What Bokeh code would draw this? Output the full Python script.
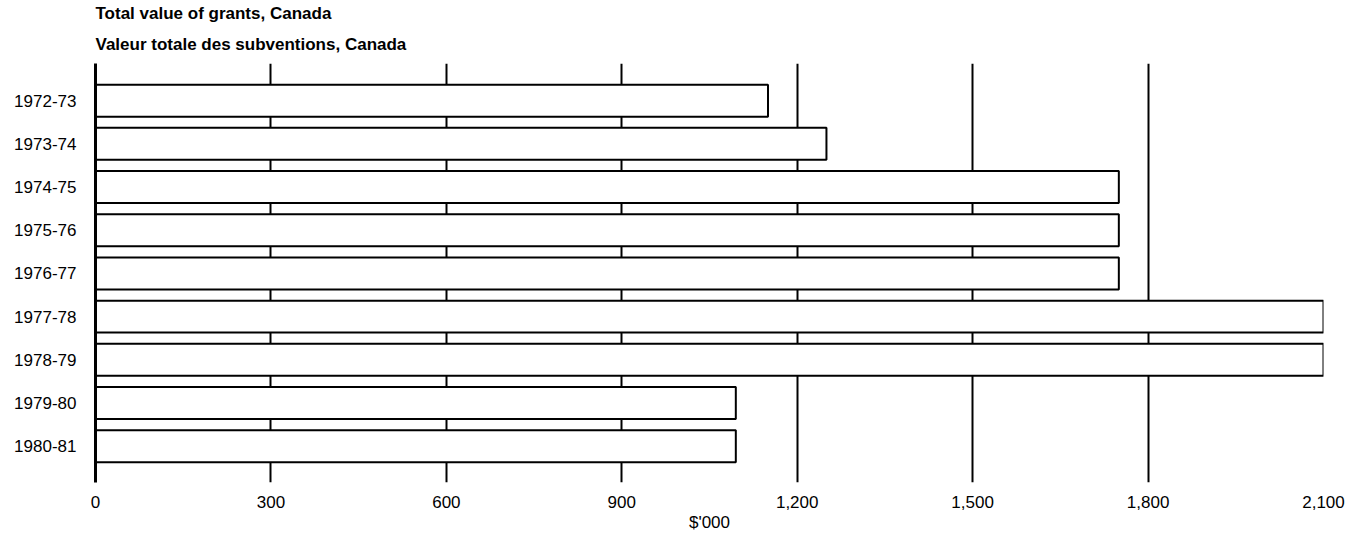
from bokeh.plotting import figure
from bokeh.models import Range1d, FixedTicker, NumeralTickFormatter, Title, ColumnDataSource
from bokeh.embed import file_html
from bokeh.resources import INLINE

years = ["1972-73", "1973-74", "1974-75", "1975-76", "1976-77",
         "1977-78", "1978-79", "1979-80", "1980-81"]
values = [1150, 1250, 1750, 1750, 1750, 2100, 2100, 1095, 1095]
x_ticks = [0, 300, 600, 900, 1200, 1500, 1800, 2100]
title_en = "Total value of grants, Canada"
title_fr = "Valeur totale des subventions, Canada"
x_label = "$'000"

FONT = "Liberation Sans"
idx = list(range(len(years)))
src = ColumnDataSource(dict(y=idx, right=values, year=years))

p = figure(frame_width=1228, frame_height=419, output_backend="svg", toolbar_location=None,
           x_range=Range1d(0, 2100), y_range=Range1d(8.84, -0.86),
           min_border_left=95, min_border_right=35, min_border_top=0,
           min_border_bottom=0)
p.title.visible = False
p.outline_line_color = None
p.background_fill_color = "white"

p.hbar(y="y", left=0, right="right", height=0.74, source=src,
       fill_color="white", line_color="black", line_width=2)

# x axis
p.xaxis.ticker = FixedTicker(ticks=x_ticks)
p.xaxis.formatter = NumeralTickFormatter(format="0,0")
p.xaxis.axis_line_color = None
p.xaxis.major_tick_line_color = None
p.xaxis.minor_tick_line_color = None
p.xaxis.major_label_standoff = 7
p.xaxis.major_label_text_font = FONT
p.xaxis.major_label_text_font_size = "17px"
p.xaxis.major_label_text_color = "black"
p.xaxis.axis_label = x_label
p.xaxis.axis_label_text_font = FONT
p.xaxis.axis_label_text_font_style = "normal"
p.xaxis.axis_label_text_font_size = "17px"
p.xaxis.axis_label_text_color = "black"
p.xaxis.axis_label_standoff = 2

# y axis
p.yaxis.ticker = FixedTicker(ticks=idx)
p.yaxis.major_label_overrides = {i: y for i, y in zip(idx, years)}
p.yaxis.axis_line_color = "black"
p.yaxis.axis_line_width = 3
p.yaxis.major_tick_line_color = None
p.yaxis.minor_tick_line_color = None
p.yaxis.major_label_standoff = 13
p.yaxis.major_label_text_font = FONT
p.yaxis.major_label_text_font_size = "17px"
p.yaxis.major_label_text_color = "black"

p.xgrid.ticker = FixedTicker(ticks=x_ticks)
p.xgrid.grid_line_color = "black"
p.xgrid.grid_line_width = 2
p.ygrid.grid_line_color = None

p.add_layout(Title(text=title_fr, align="left", text_font=FONT, text_font_style="bold",
                   text_font_size="17px", text_color="black", standoff=19), "above")
p.add_layout(Title(text=title_en, align="left", text_font=FONT, text_font_style="bold",
                   text_font_size="17px", text_color="black", standoff=2), "above")

open("out.html", "w").write(file_html(p, INLINE))
